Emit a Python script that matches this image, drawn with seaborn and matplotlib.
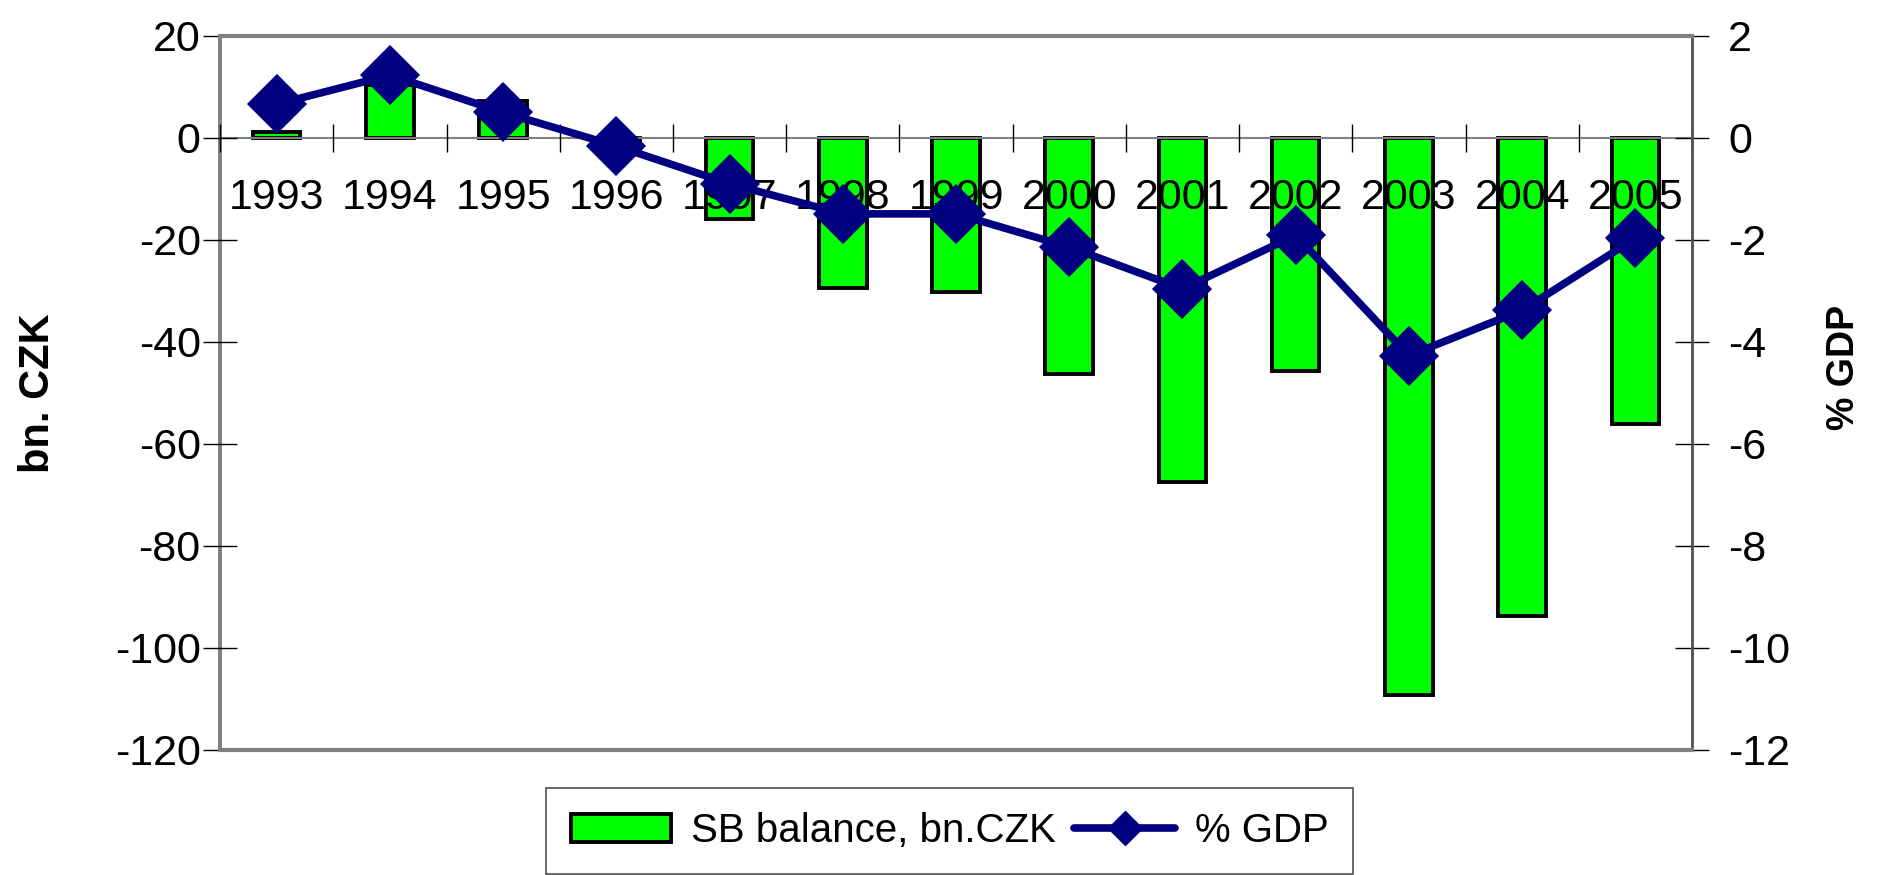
import matplotlib
matplotlib.use("Agg")
import matplotlib.pyplot as plt
import seaborn as sns
import numpy as np
from matplotlib.patches import Patch
from matplotlib.lines import Line2D

# data
years = ['1993', '1994', '1995', '1996', '1997', '1998', '1999',
         '2000', '2001', '2002', '2003', '2004', '2005']
sb_balance = [1.1, 10.4, 7.2, -1.6, -16.0, -29.5, -30.3,
              -46.3, -67.5, -45.8, -109.2, -93.7, -56.2]
pct_gdp = [0.66, 1.23, 0.50, -0.16, -0.90, -1.49, -1.49,
           -2.14, -2.96, -1.91, -4.27, -3.38, -1.97]

sns.set_style('white')
plt.rcParams['font.family'] = ['Liberation Sans', 'DejaVu Sans']
plt.rcParams['axes.unicode_minus'] = False
for k in ['text.color', 'axes.labelcolor', 'xtick.color', 'ytick.color']:
    plt.rcParams[k] = 'black'

fig = plt.figure(figsize=(18.81, 8.75), dpi=100)
ax = fig.add_axes([0.117, 0.143, 0.7825, 0.816])

sns.barplot(x=years, y=sb_balance, ax=ax, color='#00ff00', saturation=1,
            width=0.42, edgecolor='black', linewidth=2.8)
ax.set_ylim(-120, 20)
ax.set_yticks(np.arange(-120, 21, 20))
ax.set_axisbelow(False)

ax2 = ax.twinx()
sns.pointplot(x=years, y=pct_gdp, ax=ax2, color='#000080', markers='D',
              markersize=26, linewidth=5.5)
ax2.set_ylim(-12, 2)
ax2.set_yticks(np.arange(-12, 3, 2))
ax.set_xlim(-0.5, 12.5)

# axes styling (Excel look)
ax.spines['bottom'].set_position(('data', 0))
ax.spines['bottom'].set_color('#808080')
ax.spines['bottom'].set_linewidth(1.5)
ax.spines['left'].set_color('#808080')
ax.spines['left'].set_linewidth(2.8)
ax.spines['top'].set_visible(False)
ax.spines['right'].set_visible(False)
for s in ['top', 'bottom']:
    ax2.spines[s].set_color('#808080')
    ax2.spines[s].set_linewidth(3)
ax2.spines['left'].set_visible(False)
ax2.spines['right'].set_color('#505050')
ax2.spines['right'].set_linewidth(2)

ax.set_xticks(np.arange(-0.5, 12.6, 1.0), minor=False)
ax.set_xticklabels([])
ax.set_xticks(np.arange(0, 13), minor=True)
ax.set_xticklabels(years, minor=True, fontsize=31)
ax.tick_params(axis='x', which='major', direction='inout', length=20,
               width=1, color='black', bottom=True)
ax.tick_params(axis='x', which='minor', length=0, pad=29)
ax.tick_params(axis='y', direction='inout', length=24, width=1,
               color='black', left=True, labelsize=31, pad=2)
ax2.tick_params(axis='y', direction='inout', length=24, width=1,
                color='black', right=True, labelsize=31, pad=14)
ax2.tick_params(axis='x', bottom=False, labelbottom=False)

ax.set_xlabel('')
ax2.set_xlabel('')
ax.set_ylabel('bn. CZK', fontsize=30, fontweight='bold', va='center')
ax.yaxis.set_label_coords(-0.1236, 0.5)
ax2.set_ylabel('% GDP', fontsize=27, fontweight='bold', va='center')
ax2.yaxis.set_label_coords(1.103, 0.535)

handles = [Patch(facecolor='#00ff00', edgecolor='black', linewidth=2.8),
           Line2D([], [], color='#000080', marker='D', markersize=17,
                  linewidth=5.5)]
leg = fig.legend(handles, ['SB balance, bn.CZK', '% GDP'], ncol=2,
                 loc='upper left', bbox_to_anchor=(0.2905, 0.0994),
                 borderaxespad=0, frameon=True, fancybox=False,
                 borderpad=0.6, handlelength=2.5, handletextpad=0.5,
                 columnspacing=0.45, prop={'size': 29})
leg.get_frame().set_edgecolor('#222222')
leg.get_frame().set_linewidth(1.2)

fig.savefig('out.png', dpi=100)
